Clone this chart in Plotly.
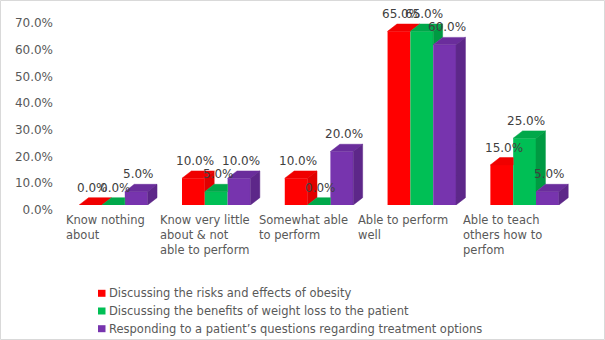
import plotly.graph_objects as go

# ---------------- data ----------------
categories = [
    "Know nothing<br>about",
    "Know very little<br>about & not<br>able to perform",
    "Somewhat able<br>to perform",
    "Able to perform<br>well",
    "Able to teach<br>others how to<br>perfom",
]
series_names = [
    "Discussing the risks and effects of obesity",
    "Discussing the benefits of weight loss to the patient",
    "Responding to a patient\u2019s questions regarding treatment options",
]
risks_values = [0.0, 10.0, 10.0, 65.0, 15.0]
benefits_values = [0.0, 5.0, 0.0, 65.0, 25.0]
questions_values = [5.0, 10.0, 20.0, 60.0, 5.0]
tick_values = [0, 10, 20, 30, 40, 50, 60, 70]
tick_labels = [f"{v:.1f}%" for v in tick_values]

# ---------------- style ----------------
W, H = 605, 340
L, R = 62, 29
T, B = 18, 135
PW = W - L - R
PH = H - T - B
front_colors = ["#FF0000", "#00BF55", "#7734AE"]
top_colors = ["#F00000", "#00A84A", "#6A2D9C"]
side_colors = ["#E00000", "#009A42", "#5D2789"]
TEXT = "#595959"
LABEL = "#404040"
FONT = "DejaVu Sans"

bar_w = 0.222
offsets = [-0.333, -0.111, 0.111]
dx = 0.0914   # depth (x, data units)
dy = 2.74     # depth (y, data units)

all_values = [risks_values, benefits_values, questions_values]
xs = list(range(len(categories)))

fig = go.Figure()

# front faces
for s, vals in enumerate(all_values):
    fig.add_trace(go.Bar(
        x=xs, y=vals, width=bar_w, offset=offsets[s],
        marker=dict(color=front_colors[s], line=dict(width=0)),
        name=series_names[s], showlegend=False, hoverinfo="skip",
    ))

# top & side faces (visible parts)
for s, vals in enumerate(all_values):
    tx, ty, sx, sy = [], [], [], []
    for i, v in enumerate(vals):
        Lx = i + offsets[s]
        Rx = Lx + bar_w
        nxt = all_values[s + 1][i] if s + 1 < len(all_values) else None
        if nxt is None or nxt <= v:
            px = [Lx, Lx + dx, Rx + dx, Rx, Lx]
            py = [v, v + dy, v + dy, v, v]
        elif nxt >= v + dy:
            px = [Lx, Lx + dx, Rx, Rx, Lx]
            py = [v, v + dy, v + dy, v, v]
        else:
            f = (nxt - v) / dy
            px = [Lx, Lx + dx, Rx + dx, Rx + dx * f, Rx, Rx, Lx]
            py = [v, v + dy, v + dy, nxt, nxt, v, v]
        tx += px + [None]
        ty += py + [None]
        base = 0.0 if nxt is None else nxt
        if v > base:
            sx += [Rx, Rx + dx, Rx + dx, Rx, Rx, None]
            sy += [base, base + dy, v + dy, v, base, None]
    fig.add_trace(go.Scatter(x=tx, y=ty, mode="lines", fill="toself",
                             fillcolor=top_colors[s], line=dict(width=0.5, color=top_colors[s]),
                             showlegend=False, hoverinfo="skip"))
    if sx:
        fig.add_trace(go.Scatter(x=sx, y=sy, mode="lines", fill="toself",
                                 fillcolor=side_colors[s], line=dict(width=0.5, color=side_colors[s]),
                                 showlegend=False, hoverinfo="skip"))

annotations = []
# data labels
for s, vals in enumerate(all_values):
    for i, v in enumerate(vals):
        annotations.append(dict(
            x=i + offsets[s] + bar_w / 2 + dx * 0.2, y=v + dy, xref="x", yref="y",
            text=f"{v:.1f}%", showarrow=False, yanchor="bottom", xanchor="center",
            yshift=1, font=dict(family=FONT, size=12, color=LABEL),
        ))

# category labels (left-aligned text blocks)
label_scale, label_shift = 0.9655, -0.078
for i, cat in enumerate(categories):
    annotations.append(dict(
        x=i * label_scale + label_shift, y=0, xref="x", yref="paper",
        text=cat, align="left", showarrow=False,
        xanchor="center", yanchor="top", yshift=-6,
        font=dict(family=FONT, size=11.5, color=TEXT),
    ))

# custom legend
shapes = []
def px2paper_x(p):
    return (p - L) / PW
def py2paper_y(p):
    return (H - B - p) / PH

legend_y = [293.3, 311.0, 328.7]
for s, name in enumerate(series_names):
    yc = legend_y[s]
    shapes.append(dict(type="rect", xref="paper", yref="paper",
                       x0=px2paper_x(98), x1=px2paper_x(105.5),
                       y0=py2paper_y(yc + 3.5), y1=py2paper_y(yc - 3.5),
                       fillcolor=front_colors[s], line=dict(width=0)))
    annotations.append(dict(x=px2paper_x(107), y=py2paper_y(yc), xref="paper", yref="paper",
                            text=name, showarrow=False, xanchor="left", yanchor="middle",
                            font=dict(family=FONT, size=11.5, color=TEXT)))

# outer border
shapes.append(dict(type="rect", xref="paper", yref="paper",
                   x0=px2paper_x(0.5), x1=px2paper_x(W - 0.5),
                   y0=py2paper_y(H - 0.5), y1=py2paper_y(0.5),
                   line=dict(color="#D9D9D9", width=1), fillcolor="rgba(0,0,0,0)", layer="below"))

fig.update_layout(
    width=W, height=H,
    margin=dict(l=L, r=R, t=T, b=B, pad=0),
    paper_bgcolor="white", plot_bgcolor="white",
    barmode="overlay",
    xaxis=dict(range=[-0.5, len(categories) - 0.5], showticklabels=False, showgrid=False,
               zeroline=False, showline=False, fixedrange=True, automargin=False),
    yaxis=dict(range=[0, 70], tickvals=tick_values, ticktext=tick_labels,
               showgrid=False, zeroline=False, showline=False, ticks="",
               ticklabelstandoff=8, ticklabelshift=5, automargin=False,
               tickfont=dict(family=FONT, size=12, color=TEXT), fixedrange=True),
    annotations=annotations,
    shapes=shapes,
    showlegend=False,
)

fig.write_html("out.html")
